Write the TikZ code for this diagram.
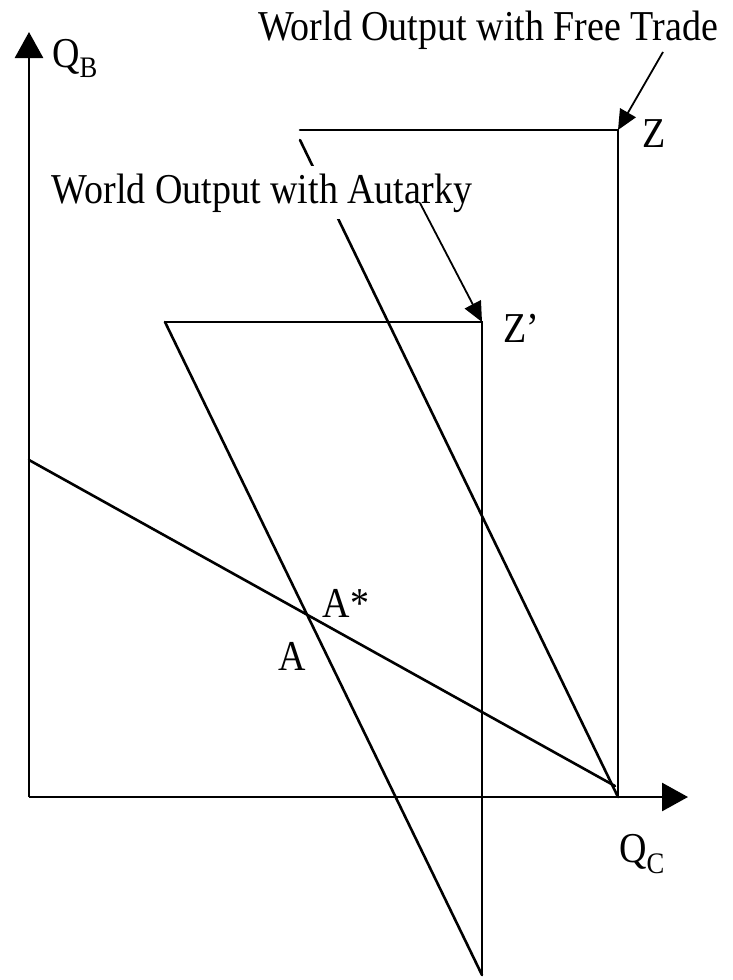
\documentclass[tikz,border=0pt]{standalone}
\usepackage{fontspec}
\setmainfont{Liberation Serif}
\usetikzlibrary{arrows.meta}
\newcommand{\tallt}[1]{\scalebox{1}[1.12]{#1}}

\begin{document}
\begin{tikzpicture}[
            x=1pt, y=-1pt,
            every node/.style={font=\fontsize{38}{40}\selectfont, inner sep=0pt},
            curve/.style={line width=2.6pt, line cap=round},
            axis/.style={line width=2.8pt, -{Triangle[length=26pt, width=28pt]}},
            pointer/.style={line width=1.8pt, -{Triangle[length=20pt, width=18pt]}},
            caption/.style={fill=white, inner sep=7pt, anchor=base}
        ]
            \useasboundingbox (0,0) rectangle (732,980);
            % Points
            \coordinate (O) at (29,797);
            \coordinate (ytip) at (29,32);
            \coordinate (xtip) at (688,797);
            \coordinate (Z) at (618,130);
            \coordinate (zleft) at (300,130);
            \coordinate (zfoot) at (618,797);
            \coordinate (ftop) at (300,140);
            \coordinate (Zp) at (482,322);
            \coordinate (zpleft) at (165,322);
            \coordinate (zpfoot) at (482,975);
            \coordinate (pstart) at (29,460);
            \coordinate (pend) at (615,786);

            % Axes
            \draw[axis] (O) -- (ytip);
            \draw[axis] (O) -- (xtip);
            \node (qb) at (75,58) {\tallt{Q\textsubscript{B}}};
            \node (qc) at (642,854) {\tallt{Q\textsubscript{C}}};

            % Free trade
            \draw[curve] (zleft) -- (Z) -- (zfoot);
            \draw[curve] (ftop) -- (zfoot);
            \node (lz) at (654,134) {\tallt{Z}};

            % Autarky
            \draw[curve] (zpleft) -- (Zp) -- (zpfoot);
            \draw[curve] (zpleft) -- (zpfoot);
            \node (lzp) at (521,328) {\tallt{Z’}};

            % Price line
            \draw[curve] (pstart) -- (pend);
            \node (astar) at (346,603) {\tallt{A*}};
            \node (a) at (292,656) {\tallt{A}};

            % Captions
            \node[caption] (free) at (488,40) {\tallt{World Output with Free Trade}};
            \node[caption] (aut) at (262,203) {\tallt{World Output with Autarky}};
            \coordinate (freearr) at (663,52);
            \coordinate (autarr) at (420,203);
            \draw[pointer] (freearr) -- (Z);
            \draw[pointer] (autarr) -- (Zp);
        \end{tikzpicture}
\end{document}
